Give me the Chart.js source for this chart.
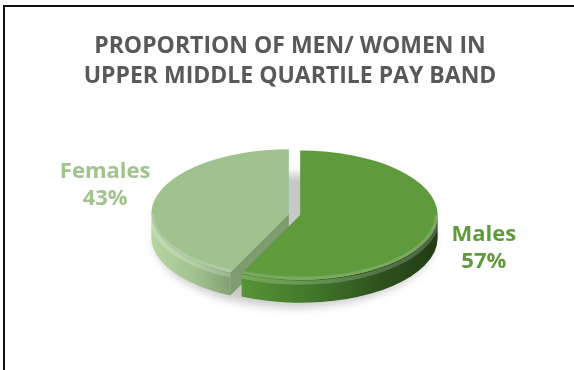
<!DOCTYPE html>
<html>
<head>
<meta charset="utf-8">
<script src="https://cdn.jsdelivr.net/npm/chart.js@4"></script>
<style>
  html, body { margin: 0; padding: 0; background: #fff; }
  #wrap { position: relative; width: 574px; height: 370px; }
</style>
</head>
<body>
<div id="wrap"><canvas id="payBandChart"></canvas></div>
<script>
// Pay band split
const titleLines = ['PROPORTION OF MEN/ WOMEN IN', 'UPPER MIDDLE QUARTILE PAY BAND'];
const categories = ['Males', 'Females'];
const shares = [57, 43];

// Slice styling
const topShades = ['#5f9a3d', '#a0c28f'];
const labelShades = ['#5f9b3d', '#a1c48f'];
const cutShades = ['#3b6a25', '#7f9b70'];
const rimShades = [
    [[0.25, '#5a9838'], [0.55, '#41762a'], [0.8, '#2d501c'], [1, '#213d14']],
    [[0, '#b5d5a3'], [0.15, '#a3c491'], [0.3, '#809e70'], [1, '#809e70']]
];

const TILT = 0.47;     // vertical squash of the pie top
const DEPTH = 23;      // wall thickness
const EXPLODE = 5.8;   // how far each slice is pulled out
const LABEL_RX = 194;
const LABEL_RY = 146;

function midAngle(arc) {
    return (arc.startAngle + arc.endAngle) / 2;
}

function sliceShift(arc) {
    const mid = midAngle(arc);
    return { x: Math.cos(mid) * EXPLODE, y: Math.sin(mid) * EXPLODE * TILT };
}

// visible (front) pieces of a slice's outer edge
function frontRanges(a0, a1) {
    const out = [];
    for (let n = -1; n <= 1; n++) {
        const s = Math.max(a0, n * 2 * Math.PI);
        const e = Math.min(a1, n * 2 * Math.PI + Math.PI);
        if (e > s) out.push([s, e]);
    }
    return out;
}

function drawSides(ctx, arc, cx, cy, i) {
    const r = arc.outerRadius, ry = r * TILT;
    const a0 = arc.startAngle, a1 = arc.endAngle;

    // radial cut faces turned towards the viewer
    [[a0, Math.cos(a0) < -0.01], [a1, Math.cos(a1) > 0.01]].forEach(([a, show]) => {
        if (!show) return;
        const ex = cx + Math.cos(a) * r, ey = cy + Math.sin(a) * ry;
        ctx.beginPath();
        ctx.moveTo(cx, cy);
        ctx.lineTo(ex, ey);
        ctx.lineTo(ex, ey + DEPTH);
        ctx.lineTo(cx, cy + DEPTH);
        ctx.closePath();
        ctx.fillStyle = cutShades[i];
        ctx.fill();
    });

    // front part of the outer wall
    const grad = ctx.createLinearGradient(cx - r, 0, cx + r, 0);
    rimShades[i].forEach(([p, c]) => grad.addColorStop(p, c));
    frontRanges(a0, a1).forEach(([s, e]) => {
        ctx.beginPath();
        ctx.ellipse(cx, cy, r, ry, 0, s, e);
        ctx.ellipse(cx, cy + DEPTH, r, ry, 0, e, s, true);
        ctx.closePath();
        ctx.fillStyle = grad;
        ctx.fill();

        ctx.save();
        ctx.clip();
        ctx.beginPath();
        ctx.ellipse(cx, cy + 3, r, ry, 0, s, e);
        ctx.strokeStyle = 'rgba(255,255,255,0.2)';
        ctx.lineWidth = 4;
        ctx.stroke();
        ctx.restore();
    });
}

// rounded-edge sheen along the front of a slice top
function drawBevel(ctx, arc, cx, cy) {
    const r = arc.outerRadius, ry = r * TILT;
    frontRanges(arc.startAngle, arc.endAngle).forEach(([s, e]) => {
        ctx.save();
        ctx.beginPath();
        ctx.ellipse(cx, cy, r, ry, 0, s, e);
        ctx.lineTo(cx, cy);
        ctx.closePath();
        ctx.clip();
        ctx.beginPath();
        ctx.ellipse(cx, cy, r - 1.5, ry - 1.5, 0, s, e);
        ctx.strokeStyle = 'rgba(255,255,255,0.16)';
        ctx.lineWidth = 3;
        ctx.stroke();
        ctx.restore();
    });
}

const pie3d = {
    id: 'pie3d',
    beforeDraw(chart) {
        const ctx = chart.ctx;
        ctx.save();
        ctx.strokeStyle = '#111';
        ctx.lineWidth = 2;
        ctx.strokeRect(4, 6, 700, 700);
        ctx.restore();
    },
    beforeDatasetDraw(chart, args) {
        const ctx = chart.ctx;
        const arcs = args.meta.data;
        if (!arcs.length) return false;
        const base = arcs[0];

        // soft floor shadow
        ctx.save();
        ctx.filter = 'blur(5px)';
        ctx.fillStyle = 'rgba(0,0,0,0.22)';
        ctx.beginPath();
        ctx.ellipse(base.x, base.y + DEPTH + 3, base.outerRadius + 2, base.outerRadius * TILT + 2, 0, 0, Math.PI * 2);
        ctx.fill();
        ctx.restore();

        // back slices first
        const order = arcs.map((a, i) => i)
            .sort((a, b) => Math.sin(midAngle(arcs[a])) - Math.sin(midAngle(arcs[b])));
        order.forEach(i => {
            const arc = arcs[i];
            const s = sliceShift(arc);
            const cx = arc.x + s.x, cy = arc.y + s.y;
            drawSides(ctx, arc, cx, cy, i);
            ctx.save();
            ctx.translate(cx, cy);
            ctx.scale(1, TILT);
            ctx.translate(-arc.x, -arc.y);
            arc.draw(ctx);
            ctx.restore();
            drawBevel(ctx, arc, cx, cy);
        });
        return false;
    },
    afterDraw(chart) {
        const ctx = chart.ctx;
        ctx.save();
        ctx.textAlign = 'center';
        ctx.textBaseline = 'alphabetic';

        ctx.fillStyle = '#595959';
        ctx.font = 'bold 23px "Open Sans"';
        titleLines.forEach((line, k) => ctx.fillText(line, 290, 53 + k * 30));

        const arcs = chart.getDatasetMeta(0).data;
        ctx.font = 'bold 22px "Open Sans"';
        arcs.forEach((arc, i) => {
            const mid = midAngle(arc);
            const lx = arc.x + Math.cos(mid) * LABEL_RX;
            const ly = arc.y + Math.sin(mid) * LABEL_RY;
            ctx.fillStyle = labelShades[i];
            ctx.fillText(categories[i], lx, ly - 5);
            ctx.fillText(shares[i] + '%', lx, ly + 22);
        });
        ctx.restore();
    }
};

const chart = new Chart(document.getElementById('payBandChart'), {
    type: 'pie',
    data: {
        labels: categories,
        datasets: [{
            data: shares,
            backgroundColor: topShades,
            borderWidth: 0,
            clip: false
        }]
    },
    options: {
        responsive: true,
        maintainAspectRatio: false,
        animation: false,
        events: [],
        radius: 137.5,
        layout: { padding: { left: 20, right: 5, top: 100, bottom: 41 } },
        plugins: {
            legend: { display: false },
            tooltip: { enabled: false },
            title: { display: false }
        }
    },
    plugins: [pie3d]
});
</script>
</body>
</html>
